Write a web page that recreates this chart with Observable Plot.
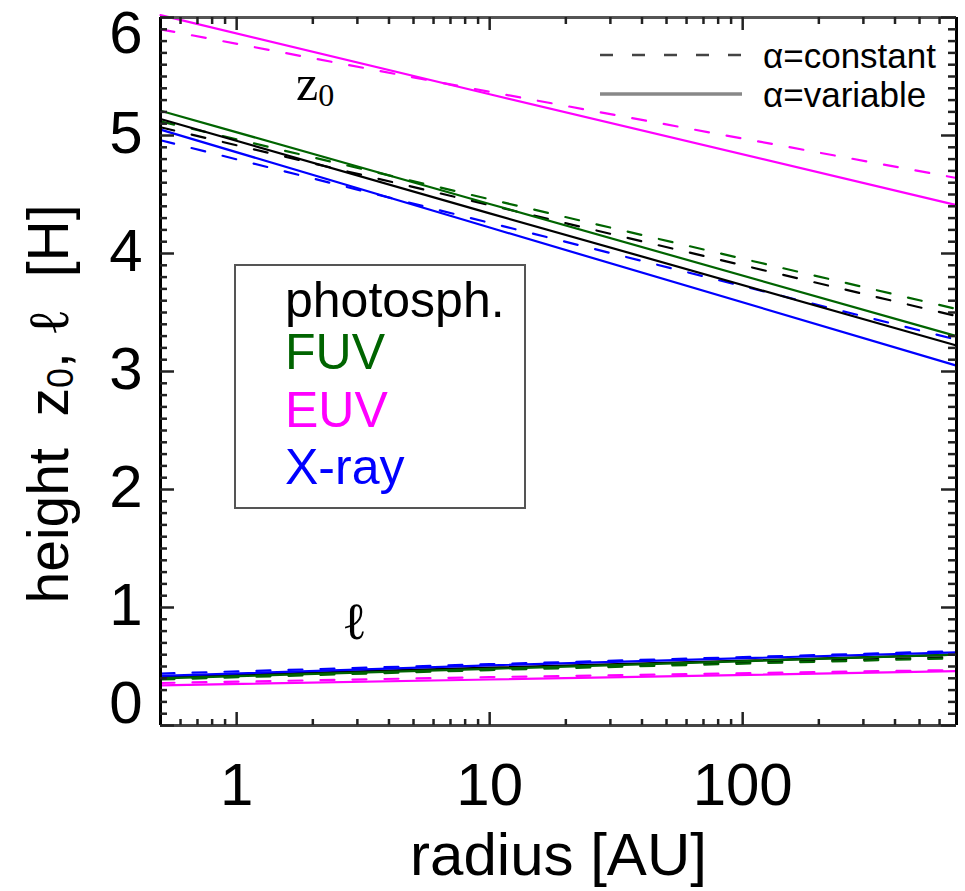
<!DOCTYPE html>
<html><head><meta charset="utf-8">
<script src="https://cdn.jsdelivr.net/npm/d3@7"></script>
<script src="https://cdn.jsdelivr.net/npm/@observablehq/plot@0.6"></script>
<style>body{margin:0;background:#fff} svg{display:block}</style>
</head><body><div id="chart"></div>
<script>
// ---------- data ----------
const radius = [0.5, 10, 700];                 // AU
const bands = ["photosph.", "FUV", "EUV", "X-ray"];
const bandColors = ["#000000", "#006400", "#ff00ff", "#0000ff"];

// z0 (upper family), alpha = constant (dashed) / variable (solid)
const z0_photo_const = [5.07, 4.41, 3.47];
const z0_photo_var   = [5.14, 4.34, 3.22];
const z0_fuv_const   = [5.12, 4.46, 3.53];
const z0_fuv_var     = [5.21, 4.42, 3.30];
const z0_euv_const   = [5.90, 5.37, 4.64];
const z0_euv_var     = [6.02, 5.35, 4.41];
const z0_xray_const  = [4.96, 4.26, 3.27];
const z0_xray_var    = [5.05, 4.22, 3.05];

// ell (lower family)
const ell_photo_const = [0.40, 0.48, 0.58];
const ell_photo_var   = [0.41, 0.49, 0.60];
const ell_fuv_const   = [0.39, 0.47, 0.57];
const ell_fuv_var     = [0.40, 0.48, 0.60];
const ell_euv_const   = [0.36, 0.41, 0.47];
const ell_euv_var     = [0.34, 0.39, 0.46];
const ell_xray_const  = [0.44, 0.52, 0.63];
const ell_xray_var    = [0.42, 0.51, 0.62];

const xMajorTicks = [1, 10, 100];
const xMinorTicks = [0.6,0.7,0.8,0.9, 2,3,4,5,6,7,8,9, 20,30,40,50,60,70,80,90, 200,300,400,500,600];
const yMajorTicks = [0,1,2,3,4,5,6];
const yMinorTicks = d3.range(1, 60).filter(i => i % 10 !== 0).map(i => i / 10);
const yTickLabels = ["0","1","2","3","4","5","6"];
const xTickLabels = ["1","10","100"];

// ---------- tidy table ----------
const series = [
  ["photosph.", "constant", "z0", z0_photo_const], ["photosph.", "variable", "z0", z0_photo_var],
  ["FUV", "constant", "z0", z0_fuv_const], ["FUV", "variable", "z0", z0_fuv_var],
  ["EUV", "constant", "z0", z0_euv_const], ["EUV", "variable", "z0", z0_euv_var],
  ["X-ray", "constant", "z0", z0_xray_const], ["X-ray", "variable", "z0", z0_xray_var],
  ["photosph.", "constant", "ell", ell_photo_const], ["photosph.", "variable", "ell", ell_photo_var],
  ["FUV", "constant", "ell", ell_fuv_const], ["FUV", "variable", "ell", ell_fuv_var],
  ["EUV", "constant", "ell", ell_euv_const], ["EUV", "variable", "ell", ell_euv_var],
  ["X-ray", "constant", "ell", ell_xray_const], ["X-ray", "variable", "ell", ell_xray_var]
];
const rows = series.flatMap(([band, alpha, q, vals]) =>
  vals.map((v, i) => ({band, alpha, q, key: band + alpha + q, r: radius[i], v})));

// ---------- layout ----------
const W = 965, H = 891, mL = 160, mR = 9, mT = 17, mB = 166;
const plotW = W - mL - mR, plotH = H - mT - mB;
const FONT = "'Liberation Sans', Arial, Helvetica, sans-serif";
const tickCol = "#222";

const chart = Plot.plot({
  width: W, height: H,
  marginLeft: mL, marginRight: mR, marginTop: mT, marginBottom: mB,
  style: {fontFamily: FONT, background: "white", color: "black"},
  x: {type: "log", domain: [0.5, 700], axis: null},
  y: {domain: [0, 6], axis: null},
  color: {domain: bands, range: bandColors},
  marks: [
    Plot.line(rows.filter(d => d.alpha === "constant"), {x: "r", y: "v", z: "key", stroke: "band", strokeWidth: 2.2, strokeDasharray: "14,18"}),
    Plot.line(rows.filter(d => d.alpha === "variable"), {x: "r", y: "v", z: "key", stroke: "band", strokeWidth: 2.2}),
    // frame
    Plot.ruleY([0], {stroke: "#444", strokeWidth: 3}),
    Plot.ruleY([6], {stroke: "#555", strokeWidth: 3}),
    Plot.ruleX([0.5], {stroke: "#000", strokeWidth: 3}),
    Plot.ruleX([700], {stroke: "#000", strokeWidth: 3}),
    // ticks (inward, mirrored)
    Plot.tickX(xMajorTicks, {x: d => d, insetTop: plotH - 13, stroke: tickCol, strokeWidth: 2.5}),
    Plot.tickX(xMajorTicks, {x: d => d, insetBottom: plotH - 13, stroke: tickCol, strokeWidth: 2.5}),
    Plot.tickX(xMinorTicks, {x: d => d, insetTop: plotH - 6, stroke: tickCol, strokeWidth: 2.5}),
    Plot.tickX(xMinorTicks, {x: d => d, insetBottom: plotH - 7, stroke: tickCol, strokeWidth: 2.5}),
    Plot.tickY(yMajorTicks, {y: d => d, insetRight: plotW - 14, stroke: tickCol, strokeWidth: 2.5}),
    Plot.tickY(yMajorTicks, {y: d => d, insetLeft: plotW - 15, stroke: tickCol, strokeWidth: 2.5}),
    Plot.tickY(yMinorTicks, {y: d => d, insetRight: plotW - 7, stroke: tickCol, strokeWidth: 2.5}),
    Plot.tickY(yMinorTicks, {y: d => d, insetLeft: plotW - 8, stroke: tickCol, strokeWidth: 2.5}),
    // y tick labels
    Plot.text(yTickLabels.slice(1, 6), {y: d => +d, text: d => d, frameAnchor: "left", textAnchor: "end", dx: -18, dy: -1.5, fontSize: 60, lineAnchor: "middle"}),
    Plot.text(yTickLabels.slice(6), {y: d => +d, text: d => d, frameAnchor: "left", textAnchor: "end", dx: -18, dy: 16, fontSize: 60, lineAnchor: "middle"}),
    Plot.text(yTickLabels.slice(0, 1), {y: d => +d, text: d => d, frameAnchor: "left", textAnchor: "end", dx: -18, dy: -21.5, fontSize: 60, lineAnchor: "middle"}),
    // x tick labels & title
    Plot.text(xTickLabels, {x: d => +d, text: d => d, frameAnchor: "bottom", dy: 60, fontSize: 60, lineAnchor: "middle"}),
    Plot.text(["radius [AU]"], {frameAnchor: "bottom", dy: 130, fontSize: 60, lineAnchor: "middle"}),
    // curve-family annotation
    Plot.text(["ℓ"], {x: [2.92], y: [0.87], fontSize: 52, fontFamily: "'DejaVu Serif', serif", lineAnchor: "middle"})
  ]
});
document.getElementById("chart").appendChild(chart);

// ---------- annotations and legends ----------
const svg = d3.select(chart);
const xs = chart.scale("x"), ys = chart.scale("y");

// z0 annotation
const z0t = svg.append("text")
  .attr("x", xs.apply(2.05)).attr("y", ys.apply(5.44))
  .attr("text-anchor", "middle").attr("dominant-baseline", "central")
  .attr("font-family", "'Liberation Serif', 'Times New Roman', serif").attr("font-size", 50);
z0t.append("tspan").text("z");
z0t.append("tspan").attr("font-size", 32).attr("dy", 12).text("0");

// y title
const yt = svg.append("text")
  .attr("transform", "translate(48,404) rotate(-90)")
  .attr("text-anchor", "middle").attr("dominant-baseline", "central")
  .attr("font-family", FONT).attr("font-size", 57);
yt.append("tspan").text("height  z");
yt.append("tspan").attr("font-size", 36).attr("dy", 12).text("0");
yt.append("tspan").attr("dy", -12).text(", ");
yt.append("tspan").attr("font-family", "'DejaVu Serif', serif").text("ℓ");
yt.append("tspan").text("  [H]");

// band legend box
svg.append("rect").attr("x", 235).attr("y", 265).attr("width", 290).attr("height", 243)
  .attr("fill", "none").attr("stroke", "#555").attr("stroke-width", 2);
const legendY = [300, 352, 410, 467];
bands.forEach((b, i) => {
  svg.append("text").attr("x", 285).attr("y", legendY[i])
    .attr("text-anchor", "start")
    .attr("dominant-baseline", "central").attr("font-family", FONT).attr("font-size", 50)
    .attr("fill", bandColors[i]).text(b);
});

// alpha legend
svg.append("line").attr("x1", 600).attr("x2", 742).attr("y1", 55).attr("y2", 55)
  .attr("stroke", "#444").attr("stroke-width", 2.5).attr("stroke-dasharray", "13,19");
svg.append("line").attr("x1", 600).attr("x2", 742).attr("y1", 94).attr("y2", 94)
  .attr("stroke", "#888").attr("stroke-width", 3.5);
[["α=constant", 55], ["α=variable", 94]].forEach(([t, y]) => {
  svg.append("text").attr("x", 763).attr("y", y).attr("text-anchor", "start")
    .attr("dominant-baseline", "central")
    .attr("font-family", FONT).attr("font-size", 35).text(t);
});
</script>
</body></html>
